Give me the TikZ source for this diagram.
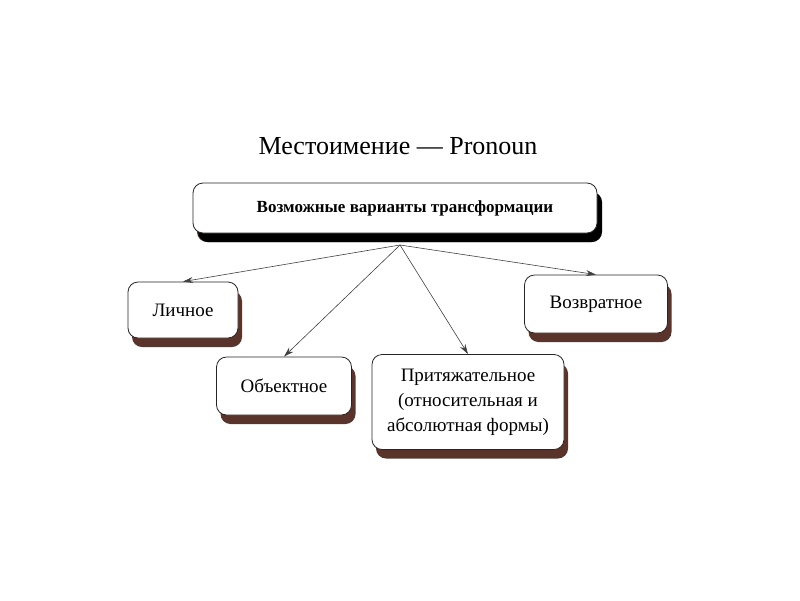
\documentclass[tikz,border=0pt]{standalone}
\usepackage{fontspec}
\setmainfont{Liberation Serif}
\usetikzlibrary{shadows,arrows.meta}
\definecolor{brownshadow}{RGB}{90,52,42}
\begin{document}
\begin{tikzpicture}[x=1pt, y=-1pt,
    box/.style={
        draw=black!85,
        line width=0.8pt,
        fill=white,
        rounded corners=10pt,
        align=center,
        font=\fontsize{19}{25}\selectfont,
        drop shadow={shadow xshift=4pt, shadow yshift=-9pt,
            fill=brownshadow, opacity=1}},
    arrow/.style={-{Stealth[length=10pt,width=6pt]}, draw=black!75, line width=0.6pt}]

    \useasboundingbox (0,0) rectangle (800,600);

    \node[font=\fontsize{26}{30}\selectfont] (title) at (398,146) {Местоимение — Pronoun};

    \node[box, minimum width=404pt, minimum height=50pt,
        font=\fontsize{17}{20}\selectfont\bfseries,
        drop shadow={shadow xshift=5pt, shadow yshift=-9pt, fill=black, opacity=1}]
        (variants) at (395,208) {\hspace*{20pt}Возможные варианты трансформации};

    \node[box, minimum width=110pt, minimum height=56pt] (lich) at (183,310) {Личное};
    \node[box, minimum width=135pt, minimum height=58pt] (obj) at (284,386) {Объектное};
    \node[box, minimum width=192pt, minimum height=95pt] (prit) at (468,402)
        {Притяжательное\\(относительная и\\абсолютная формы)};
    \node[box, minimum width=143pt, minimum height=58pt] (vozv) at (596,304) {Возвратное};

    \coordinate (src) at (400,245);

    \draw[arrow] (src) -- (lich.north);
    \draw[arrow] (src) -- (obj.north);
    \draw[arrow] (src) -- (prit.north);
    \draw[arrow] (src) -- (vozv.north);
\end{tikzpicture}
\end{document}
